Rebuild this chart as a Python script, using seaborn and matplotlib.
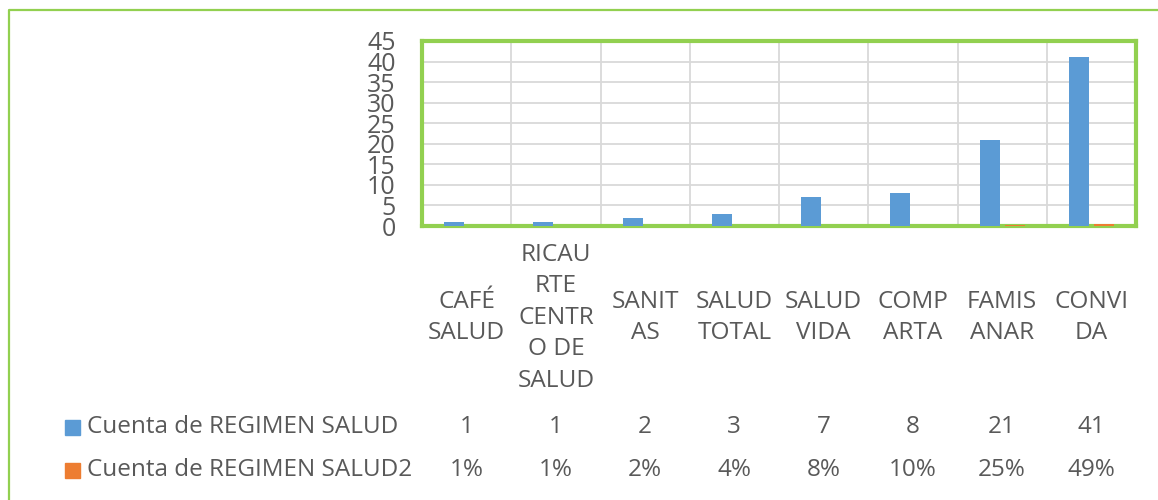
import matplotlib
matplotlib.use("Agg")
import matplotlib.pyplot as plt
from matplotlib.lines import Line2D
import seaborn as sns
import pandas as pd

categorias = ["CAFÉ SALUD", "RICAURTE CENTRO DE SALUD", "SANITAS", "SALUD TOTAL",
              "SALUD VIDA", "COMPARTA", "FAMISANAR", "CONVIDA"]
etiquetas = ["CAFÉ\nSALUD", "RICAU\nRTE\nCENTR\nO DE\nSALUD", "SANIT\nAS", "SALUD\nTOTAL",
             "SALUD\nVIDA", "COMP\nARTA", "FAMIS\nANAR", "CONVI\nDA"]
cuenta = [1, 1, 2, 3, 7, 8, 21, 41]
porcentaje = [0.01, 0.01, 0.02, 0.04, 0.08, 0.10, 0.25, 0.49]
series = ["Cuenta de REGIMEN SALUD", "Cuenta de REGIMEN SALUD2"]

azul = "#5B9BD5"
naranja = "#ED7D31"
verde = "#92D050"
gris = "#595959"

df = pd.DataFrame({
    "categoria": categorias * 2,
    "serie": [series[0]] * len(categorias) + [series[1]] * len(categorias),
    "valor": cuenta + porcentaje,
})

sns.set_style("white")
plt.rcParams["font.family"] = ["Open Sans", "DejaVu Sans"]

fig = plt.figure(figsize=(11.58, 5.0), dpi=100)
ax = fig.add_axes([422 / 1158, 1 - 226 / 500, (1136 - 422) / 1158, (226 - 41) / 500])

sns.barplot(data=df, x="categoria", y="valor", hue="serie", order=categorias,
            palette=[azul, naranja], saturation=1, width=0.56, gap=0.2,
            linewidth=0, legend=False, ax=ax, zorder=3)

ax.set_xlim(-0.5, 7.5)
ax.set_ylim(0, 45)
ax.set_yticks(range(0, 46, 5))
ax.set_xticks(range(len(categorias)))
ax.set_xticklabels(etiquetas, va="center", linespacing=1.42)
ax.set_xlabel("")
ax.set_ylabel("")

# lineas de la cuadricula
for y in range(5, 46, 5):
    ax.axhline(y, color="#D9D9D9", lw=1.3, zorder=1)
for x in range(len(categorias) - 1):
    ax.axvline(x + 0.5, color="#D9D9D9", lw=1.3, zorder=1)
ax.axhline(0, color="#D9D9D9", lw=1.5, zorder=2)

for s in ax.spines.values():
    s.set_color(verde)
    s.set_linewidth(3)

ax.tick_params(axis="y", length=0, pad=19, labelsize=18, labelcolor=gris)
ax.tick_params(axis="x", length=0, pad=66, labelsize=17.6, labelcolor=gris)

# tabla de datos debajo del grafico
fila_y = [1 - 427 / 500, 1 - 470 / 500]
for i, (c, p) in enumerate(zip(cuenta, porcentaje)):
    xd = ax.transData.transform((i, 0))[0] / fig.bbox.width
    fig.text(xd, fila_y[0], str(c), ha="center", va="center", fontsize=17.5, color=gris)
    fig.text(xd, fila_y[1], f"{p:.0%}", ha="center", va="center", fontsize=17.5, color=gris)

for k, (nombre, col) in enumerate(zip(series, [azul, naranja])):
    fig.patches.append(plt.Rectangle((65 / 1158, fila_y[k] - 7.5 / 500), 15 / 1158, 15 / 500,
                                     transform=fig.transFigure, color=col))
    fig.text(87 / 1158, fila_y[k], nombre, ha="left", va="center", fontsize=17.5, color=gris)

# marco exterior (solo borde superior e izquierdo visibles)
fig.add_artist(Line2D([9 / 1158, 9 / 1158, 1], [0, 1 - 10 / 500, 1 - 10 / 500],
                      transform=fig.transFigure, color=verde, lw=1.6))

fig.savefig("out.png", dpi=100, facecolor="white")
